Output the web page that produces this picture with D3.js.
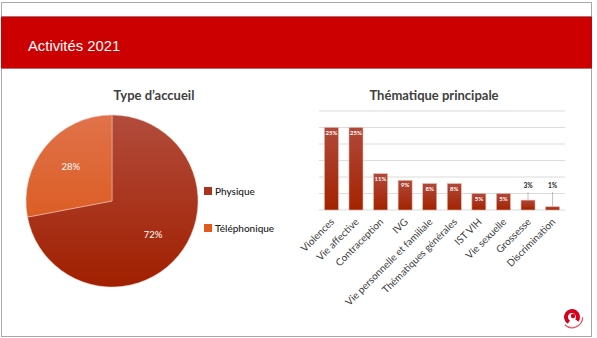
<!DOCTYPE html>
<html>
<head>
<meta charset="utf-8">
<script src="https://cdn.jsdelivr.net/npm/d3@7"></script>
<style>
  html, body { margin: 0; padding: 0; background: #fff; }
  svg { display: block; }
</style>
</head>
<body>
<svg id="chart" width="597" height="338"></svg>
<script>
// Reception type (pie)
const pieLabels = ["Physique", "Téléphonique"];
const pieValues = [72, 28];

// Main topic (bars)
const topics = ["Violences", "Vie affective", "Contraception", "IVG",
  "Vie personnelle et familiale", "Thématiques générales", "IST VIH",
  "Vie sexuelle", "Grossesse", "Discrimination"];
const topicValues = [25, 25, 11, 9, 8, 8, 5, 5, 3, 1];
const yTicks = [0, 5, 10, 15, 20, 25, 30];

const svg = d3.select("#chart");
const defs = svg.append("defs");

function vGrad(id, y1, y2, c1, c2, units) {
  const g = defs.append("linearGradient").attr("id", id)
    .attr("x1", 0).attr("x2", 0).attr("y1", y1).attr("y2", y2);
  if (units) g.attr("gradientUnits", units);
  g.append("stop").attr("offset", 0).attr("stop-color", c1);
  g.append("stop").attr("offset", 1).attr("stop-color", c2);
}
vGrad("gPhys", -86, 86, "#b24c3c", "#a01f00", "userSpaceOnUse");
vGrad("gTel", -86, 86, "#e0724a", "#d9500c", "userSpaceOnUse");
vGrad("gBar", 0, 1, "#b0483a", "#a32300");

// Slide frame
svg.append("rect").attr("x", 1.5).attr("y", 2.5).attr("width", 590).attr("height", 334)
  .attr("fill", "#fff").attr("stroke", "#a8a8a8").attr("stroke-width", 1);

// Header band
svg.append("rect").attr("x", 1).attr("y", 17).attr("width", 591).attr("height", 51)
  .attr("fill", "#cc0000");
svg.append("line").attr("x1", 1).attr("x2", 592).attr("y1", 16.5).attr("y2", 16.5)
  .attr("stroke", "#b07070").attr("stroke-width", 1);
svg.append("line").attr("x1", 1).attr("x2", 592).attr("y1", 68.5).attr("y2", 68.5)
  .attr("stroke", "#b07070").attr("stroke-width", 1);
svg.append("text").attr("x", 28).attr("y", 51)
  .attr("font-family", "Liberation Sans, Arial, sans-serif").attr("font-size", 14.8)
  .attr("fill", "#fff").text("Activités 2021");

// ---- Pie chart ----
const titleFont = "Lato, 'Open Sans', sans-serif";
svg.append("text").attr("x", 154).attr("y", 100).attr("text-anchor", "middle")
  .attr("font-family", titleFont).attr("font-weight", "bold").attr("font-size", 13)
  .attr("fill", "#404040").text("Type d\u2019accueil");

const pieG = svg.append("g").attr("transform", "translate(112,201)");
const radius = 86;
const pie = d3.pie().sort(null).value(d => d)(pieValues);
const arc = d3.arc().innerRadius(0).outerRadius(radius);
const fills = ["url(#gPhys)", "url(#gTel)"];
pieG.selectAll("path").data(pie).join("path")
  .attr("d", arc).attr("fill", (d, i) => fills[i])
  .attr("stroke", "#f0c8b8").attr("stroke-width", 0.5);
const labelArc = d3.arc().innerRadius(radius * 0.62).outerRadius(radius * 0.62);
pieG.selectAll("text.pl").data(pie).join("text").attr("class", "pl")
  .attr("transform", d => `translate(${labelArc.centroid(d)})`)
  .attr("text-anchor", "middle").attr("dy", "0.35em")
  .attr("font-family", titleFont).attr("font-size", 9.5).attr("fill", "#fff")
  .text(d => d.data + "%");

// Legend
const legColors = ["#aa3320", "#e05a1c"];
const leg = svg.append("g").selectAll("g").data(pieLabels).join("g")
  .attr("transform", (d, i) => `translate(204,${187 + i * 37})`);
leg.append("rect").attr("width", 8).attr("height", 8)
  .attr("fill", (d, i) => legColors[i]);
leg.append("text").attr("x", 11).attr("y", 8)
  .attr("font-family", titleFont).attr("font-size", 10).attr("font-weight", 500)
  .attr("fill", "#202020").text(d => d);

// ---- Bar chart ----
svg.append("text").attr("x", 434).attr("y", 100).attr("text-anchor", "middle")
  .attr("font-family", titleFont).attr("font-weight", "bold").attr("font-size", 13)
  .attr("fill", "#404040").text("Thématique principale");

const x = d3.scaleBand().domain(topics).range([319, 565]).paddingInner(0.43).paddingOuter(0.22);
const y = d3.scaleLinear().domain([0, 30]).range([210, 111]);

svg.append("g").selectAll("line").data(yTicks).join("line")
  .attr("x1", 319).attr("x2", 565)
  .attr("y1", d => y(d)).attr("y2", d => y(d))
  .attr("stroke", "#dcdcdc").attr("stroke-width", 1.2);

const barData = topics.map((t, i) => ({ t, v: topicValues[i] }));
svg.append("g").selectAll("rect").data(barData).join("rect")
  .attr("x", d => x(d.t)).attr("width", x.bandwidth())
  .attr("y", d => y(d.v)).attr("height", d => y(0) - y(d.v))
  .attr("fill", "url(#gBar)").attr("stroke", "#e8b8a8").attr("stroke-width", 0.6);

// Value labels: inside tall bars, above short ones with a leader line
const inside = barData.filter(d => d.v >= 5);
const outside = barData.filter(d => d.v < 5);
svg.append("g").selectAll("text").data(inside).join("text")
  .attr("x", d => x(d.t) + x.bandwidth() / 2).attr("y", d => y(d.v) + 7)
  .attr("text-anchor", "middle").attr("font-family", titleFont)
  .attr("font-size", 6).attr("font-weight", "bold").attr("fill", "#fff")
  .text(d => d.v + "%");
svg.append("g").selectAll("line").data(outside).join("line")
  .attr("x1", d => x(d.t) + x.bandwidth() / 2).attr("x2", d => x(d.t) + x.bandwidth() / 2)
  .attr("y1", 192).attr("y2", d => y(d.v))
  .attr("stroke", "#b0b0b0").attr("stroke-width", 0.8);
svg.append("g").selectAll("text").data(outside).join("text")
  .attr("x", d => x(d.t) + x.bandwidth() / 2).attr("y", 188)
  .attr("text-anchor", "middle").attr("font-family", titleFont)
  .attr("font-size", 6.5).attr("font-weight", "bold").attr("fill", "#202020")
  .text(d => d.v + "%");

// Category labels rotated
svg.append("g").selectAll("text").data(topics).join("text")
  .attr("transform", d => `translate(${x(d) + x.bandwidth() / 2 + 1},${220}) rotate(-45)`)
  .attr("text-anchor", "end").attr("dy", "0.35em")
  .attr("font-family", titleFont).attr("font-size", 10).attr("fill", "#404040")
  .text(d => d);

// Logo swirl
const logo = svg.append("g").attr("transform", "translate(572,317)");
logo.append("path")
  .attr("d", d3.arc().innerRadius(4).outerRadius(8).startAngle(-2.6).endAngle(2.2)())
  .attr("fill", "#d8001a");
logo.append("circle").attr("cx", 1).attr("cy", -1).attr("r", 2.2).attr("fill", "#d8001a");
logo.append("path")
  .attr("d", d3.arc().innerRadius(10).outerRadius(11.3).startAngle(1.6).endAngle(3.9)())
  .attr("fill", "#e03040").attr("opacity", 0.8);
</script>
</body>
</html>
